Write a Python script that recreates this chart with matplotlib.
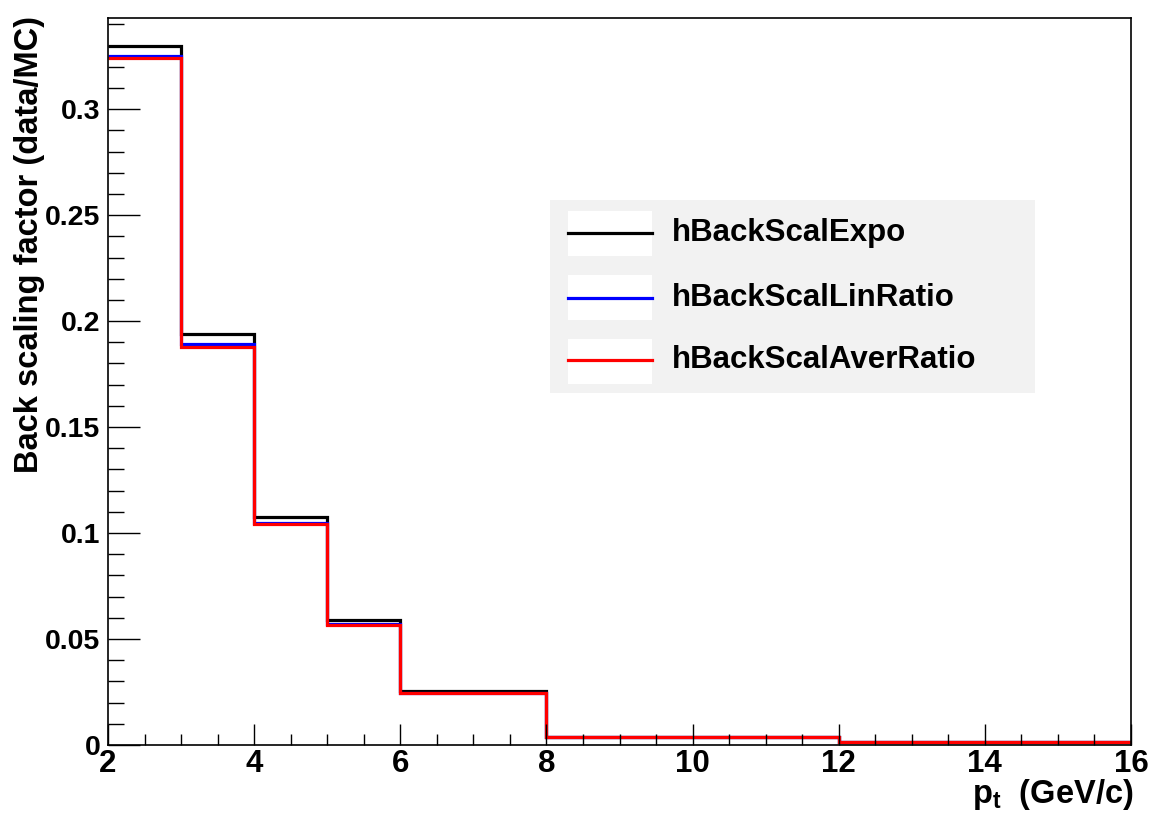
import matplotlib
matplotlib.use("Agg")
import matplotlib.pyplot as plt
from matplotlib.ticker import MultipleLocator, FuncFormatter
from matplotlib.patches import Rectangle
from matplotlib.lines import Line2D

plt.rcParams['font.family'] = ['Liberation Sans', 'DejaVu Sans']
plt.rcParams['mathtext.fontset'] = 'custom'
plt.rcParams['mathtext.rm'] = 'Liberation Sans:bold'
plt.rcParams['mathtext.bf'] = 'Liberation Sans:bold'
plt.rcParams['mathtext.it'] = 'Liberation Sans:bold'

# Data
bin_edges = [2, 3, 4, 5, 6, 8, 12, 16]
series_names = ["hBackScalExpo", "hBackScalLinRatio", "hBackScalAverRatio"]
expo = [0.3300, 0.1939, 0.1077, 0.0590, 0.0255, 0.0038, 0.0014]
lin_ratio = [0.3250, 0.1890, 0.1047, 0.0570, 0.0245, 0.0038, 0.0014]
aver_ratio = [0.3242, 0.1877, 0.1045, 0.0568, 0.0244, 0.0038, 0.0014]
series_values = [expo, lin_ratio, aver_ratio]
series_colors = ["black", "#0000ff", "#ff0000"]

W, H = 1151, 822
fig = plt.figure(figsize=(W / 100, H / 100), dpi=100)
left, right, top, bottom = 108 / W, 1131 / W, 1 - 18 / H, 1 - 745 / H
ax = fig.add_axes([left, bottom, right - left, top - bottom])

for vals, col in zip(series_values, series_colors):
    ax.stairs(vals, bin_edges, color=col, linewidth=2.3, baseline=None)

ax.set_xlim(2, 16)
ax.set_ylim(0, 0.343)

ax.xaxis.set_major_locator(MultipleLocator(2))
ax.xaxis.set_minor_locator(MultipleLocator(0.5))
ax.yaxis.set_major_locator(MultipleLocator(0.05))
ax.yaxis.set_minor_locator(MultipleLocator(0.01))
ax.yaxis.set_major_formatter(FuncFormatter(lambda v, p: "%g" % round(v, 4)))
ax.xaxis.set_major_formatter(FuncFormatter(lambda v, p: "%g" % v))

ax.tick_params(axis='both', which='both', direction='in', top=False, right=False,
               width=1.0, colors='black')
ax.tick_params(axis='y', which='major', length=23, pad=5.5, labelsize=20.5)
ax.tick_params(axis='y', which='minor', length=11.5)
ax.tick_params(axis='x', which='major', length=15, pad=3, labelsize=22.5)
ax.tick_params(axis='x', which='minor', length=8)
for lab in ax.get_xticklabels() + ax.get_yticklabels():
    lab.set_fontweight('bold')
for s in ax.spines.values():
    s.set_linewidth(1.2)

fig.text(30 / W, 1 - 16 / H, "Back scaling factor (data/MC)", fontsize=23.5,
         fontweight='bold', rotation=90, ha='center', va='top')

fig.text(1133 / W, 1 - 803 / H, r"$\mathbf{p}_{\mathbf{t}}$  (GeV/c)", fontsize=23.5,
         fontweight='bold', ha='right', va='baseline')

# Legend (manual, ROOT style)
tr = ax.transAxes
def ax_x(px):
    return (px - 108) / (1131 - 108)
def ax_y(py):
    return (745 - py) / (745 - 18)

ax.add_patch(Rectangle((ax_x(550), ax_y(393)), ax_x(1035) - ax_x(550),
                       ax_y(200) - ax_y(393), transform=tr, facecolor='#f2f2f2',
                       edgecolor='none', zorder=5))
row_tops = [211, 275, 339]
row_bots = [256, 320, 384]
row_lines = [233, 298, 360]
for name, col, t, b, ly in zip(series_names, series_colors, row_tops, row_bots, row_lines):
    ax.add_patch(Rectangle((ax_x(568), ax_y(b)), ax_x(652) - ax_x(568), ax_y(t) - ax_y(b),
                           transform=tr, facecolor='white', edgecolor='none', zorder=6))
    ax.add_line(Line2D([ax_x(568), ax_x(652)], [ax_y(ly), ax_y(ly)], transform=tr,
                       color=col, linewidth=2.3, zorder=7))
    ax.text(ax_x(672), ax_y(ly), name, transform=tr, fontsize=22.5, fontweight='bold',
            ha='left', va='center', zorder=8)

fig.savefig("out.png", dpi=100, facecolor='white')
